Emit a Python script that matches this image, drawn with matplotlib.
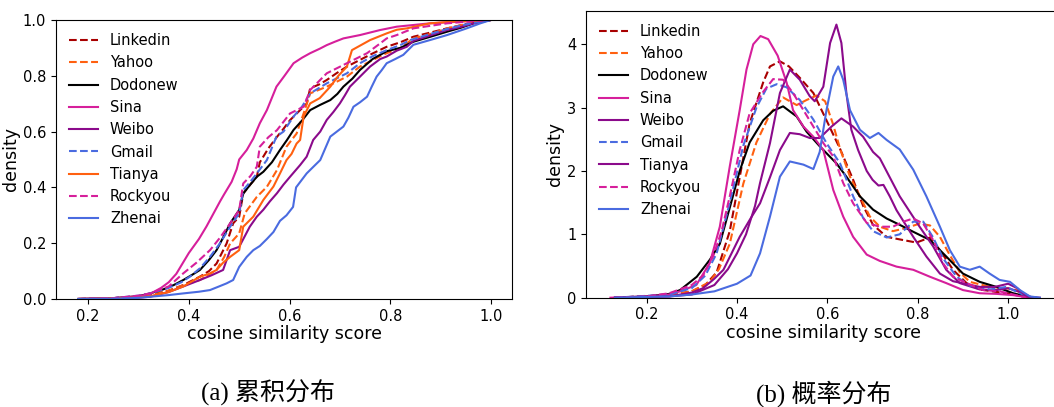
import matplotlib
matplotlib.use("Agg")
import matplotlib.pyplot as plt

# ---------------- data ----------------
names = ["Linkedin", "Yahoo", "Dodonew", "Sina", "Weibo", "Gmail", "Tianya", "Rockyou", "Zhenai"]

# (a) cumulative distribution (ECDF) points
cdf_x = {
    "Linkedin": [0.18, 0.25, 0.30, 0.323, 0.36, 0.389, 0.422, 0.44, 0.455, 0.475, 0.488, 0.5, 0.508, 0.522, 0.535, 0.541, 0.558, 0.575, 0.588, 0.601, 0.621, 0.634, 0.641, 0.66, 0.674, 0.694, 0.714, 0.74, 0.765, 0.793, 0.82, 0.846, 0.88, 0.913, 0.95, 0.979, 1.0],
    "Yahoo": [0.18, 0.25, 0.30, 0.323, 0.36, 0.39, 0.422, 0.455, 0.47, 0.482, 0.5, 0.511, 0.535, 0.555, 0.575, 0.594, 0.614, 0.628, 0.641, 0.674, 0.714, 0.740, 0.78, 0.793, 0.82, 0.846, 0.88, 0.913, 0.95, 1.0],
    "Dodonew": [0.18, 0.25, 0.30, 0.323, 0.35, 0.37, 0.389, 0.405, 0.422, 0.44, 0.455, 0.468, 0.482, 0.5, 0.508, 0.522, 0.535, 0.548, 0.565, 0.581, 0.595, 0.608, 0.625, 0.641, 0.66, 0.681, 0.695, 0.707, 0.725, 0.740, 0.765, 0.793, 0.82, 0.846, 0.88, 0.913, 0.94, 0.966, 1.0],
    "Sina": [0.18, 0.25, 0.30, 0.323, 0.345, 0.36, 0.375, 0.385, 0.40, 0.42, 0.435, 0.45, 0.462, 0.47, 0.485, 0.495, 0.5, 0.515, 0.528, 0.541, 0.555, 0.574, 0.59, 0.608, 0.625, 0.641, 0.66, 0.674, 0.69, 0.707, 0.74, 0.78, 0.813, 0.879, 0.95, 1.0],
    "Weibo": [0.18, 0.25, 0.30, 0.323, 0.36, 0.389, 0.422, 0.445, 0.468, 0.482, 0.5, 0.521, 0.535, 0.548, 0.561, 0.575, 0.588, 0.601, 0.621, 0.634, 0.647, 0.661, 0.674, 0.687, 0.70, 0.71, 0.72, 0.74, 0.76, 0.78, 0.793, 0.813, 0.833, 0.846, 0.88, 0.913, 0.94, 0.966, 1.0],
    "Gmail": [0.18, 0.25, 0.30, 0.323, 0.36, 0.385, 0.402, 0.422, 0.442, 0.462, 0.482, 0.5, 0.508, 0.522, 0.535, 0.555, 0.574, 0.588, 0.608, 0.625, 0.641, 0.674, 0.714, 0.740, 0.765, 0.793, 0.82, 0.84, 0.88, 0.913, 0.95, 0.979, 1.0],
    "Tianya": [0.18, 0.25, 0.30, 0.323, 0.36, 0.389, 0.422, 0.44, 0.455, 0.468, 0.482, 0.5, 0.508, 0.528, 0.548, 0.568, 0.581, 0.594, 0.604, 0.614, 0.621, 0.628, 0.641, 0.66, 0.681, 0.697, 0.714, 0.724, 0.742, 0.76, 0.793, 0.813, 0.833, 0.879, 0.93, 1.0],
    "Rockyou": [0.18, 0.25, 0.30, 0.323, 0.36, 0.389, 0.415, 0.442, 0.462, 0.482, 0.5, 0.508, 0.522, 0.535, 0.541, 0.558, 0.575, 0.601, 0.628, 0.641, 0.674, 0.714, 0.754, 0.78, 0.793, 0.813, 0.846, 0.913, 0.96, 1.0],
    "Zhenai": [0.18, 0.25, 0.30, 0.323, 0.36, 0.389, 0.42, 0.442, 0.46, 0.475, 0.488, 0.5, 0.515, 0.528, 0.541, 0.555, 0.568, 0.581, 0.594, 0.607, 0.613, 0.634, 0.648, 0.661, 0.671, 0.681, 0.694, 0.707, 0.717, 0.727, 0.74, 0.754, 0.763, 0.773, 0.783, 0.793, 0.81, 0.826, 0.846, 0.879, 0.913, 0.952, 0.979, 1.0],
}
cdf_y = {
    "Linkedin": [0, 0.003, 0.01, 0.014, 0.03, 0.05, 0.08, 0.10, 0.127, 0.199, 0.271, 0.295, 0.378, 0.41, 0.438, 0.49, 0.54, 0.581, 0.61, 0.641, 0.677, 0.70, 0.755, 0.77, 0.785, 0.81, 0.833, 0.857, 0.88, 0.904, 0.92, 0.94, 0.955, 0.970, 0.985, 0.994, 1.0],
    "Yahoo": [0, 0.002, 0.007, 0.012, 0.03, 0.05, 0.068, 0.104, 0.15, 0.199, 0.235, 0.307, 0.366, 0.402, 0.462, 0.546, 0.593, 0.665, 0.737, 0.761, 0.797, 0.833, 0.87, 0.881, 0.899, 0.934, 0.95, 0.970, 0.985, 1.0],
    "Dodonew": [0, 0.003, 0.01, 0.02, 0.035, 0.05, 0.068, 0.085, 0.104, 0.14, 0.175, 0.22, 0.271, 0.319, 0.378, 0.41, 0.438, 0.456, 0.49, 0.534, 0.57, 0.606, 0.64, 0.677, 0.695, 0.713, 0.735, 0.761, 0.79, 0.821, 0.86, 0.888, 0.90, 0.922, 0.94, 0.958, 0.972, 0.988, 1.0],
    "Sina": [0, 0.003, 0.01, 0.018, 0.04, 0.06, 0.09, 0.12, 0.165, 0.215, 0.26, 0.31, 0.35, 0.375, 0.42, 0.465, 0.5, 0.534, 0.575, 0.63, 0.677, 0.761, 0.80, 0.845, 0.865, 0.881, 0.897, 0.910, 0.922, 0.934, 0.946, 0.964, 0.976, 0.988, 0.995, 1.0],
    "Weibo": [0, 0.002, 0.005, 0.008, 0.025, 0.045, 0.068, 0.085, 0.104, 0.175, 0.187, 0.259, 0.295, 0.32, 0.35, 0.379, 0.41, 0.438, 0.48, 0.51, 0.57, 0.60, 0.642, 0.67, 0.701, 0.73, 0.761, 0.797, 0.833, 0.86, 0.869, 0.89, 0.904, 0.925, 0.945, 0.964, 0.975, 0.988, 1.0],
    "Gmail": [0, 0.003, 0.012, 0.02, 0.04, 0.06, 0.08, 0.11, 0.151, 0.2, 0.259, 0.307, 0.39, 0.42, 0.45, 0.498, 0.582, 0.60, 0.654, 0.69, 0.737, 0.773, 0.809, 0.845, 0.87, 0.892, 0.91, 0.928, 0.95, 0.968, 0.984, 0.994, 1.0],
    "Tianya": [0, 0.002, 0.005, 0.01, 0.025, 0.045, 0.08, 0.09, 0.104, 0.13, 0.151, 0.175, 0.259, 0.295, 0.355, 0.403, 0.45, 0.498, 0.52, 0.557, 0.57, 0.654, 0.701, 0.72, 0.761, 0.80, 0.833, 0.892, 0.91, 0.928, 0.952, 0.965, 0.970, 0.988, 0.995, 1.0],
    "Rockyou": [0, 0.003, 0.012, 0.02, 0.045, 0.092, 0.13, 0.175, 0.22, 0.271, 0.319, 0.414, 0.44, 0.474, 0.546, 0.58, 0.605, 0.665, 0.689, 0.749, 0.809, 0.845, 0.881, 0.916, 0.934, 0.946, 0.970, 0.988, 0.995, 1.0],
    "Zhenai": [0, 0.001, 0.004, 0.008, 0.014, 0.02, 0.026, 0.032, 0.045, 0.056, 0.068, 0.115, 0.151, 0.175, 0.19, 0.215, 0.24, 0.28, 0.30, 0.33, 0.40, 0.45, 0.475, 0.498, 0.54, 0.582, 0.60, 0.618, 0.65, 0.689, 0.705, 0.725, 0.76, 0.797, 0.82, 0.845, 0.86, 0.875, 0.911, 0.928, 0.946, 0.970, 0.988, 1.0],
}

# (b) probability density (KDE) points
pdf_x = {
    "Linkedin": [0.13, 0.25, 0.3, 0.33, 0.355, 0.384, 0.406, 0.428, 0.458, 0.473, 0.495, 0.515, 0.539, 0.569, 0.598, 0.628, 0.657, 0.679, 0.701, 0.731, 0.76, 0.797, 0.827, 0.849, 0.878, 0.908, 0.937, 0.974, 1.01, 1.04, 1.06],
    "Yahoo": [0.13, 0.25, 0.3, 0.34, 0.36, 0.384, 0.414, 0.443, 0.473, 0.502, 0.532, 0.554, 0.576, 0.595, 0.612, 0.628, 0.65, 0.672, 0.694, 0.716, 0.745, 0.775, 0.804, 0.827, 0.849, 0.871, 0.893, 0.915, 0.96, 0.996, 1.018, 1.04, 1.06],
    "Dodonew": [0.13, 0.2, 0.25, 0.274, 0.311, 0.34, 0.362, 0.384, 0.406, 0.428, 0.458, 0.48, 0.502, 0.532, 0.554, 0.583, 0.62, 0.642, 0.672, 0.701, 0.731, 0.76, 0.79, 0.827, 0.863, 0.9, 0.937, 0.974, 1.011, 1.04, 1.06],
    "Sina": [0.12, 0.2, 0.25, 0.274, 0.31, 0.34, 0.362, 0.384, 0.406, 0.421, 0.436, 0.452, 0.469, 0.49, 0.51, 0.524, 0.547, 0.569, 0.591, 0.613, 0.635, 0.657, 0.687, 0.716, 0.753, 0.79, 0.827, 0.863, 0.9, 0.937, 0.974, 1.011, 1.048],
    "Weibo": [0.13, 0.25, 0.3, 0.325, 0.35, 0.37, 0.406, 0.43, 0.451, 0.473, 0.495, 0.517, 0.539, 0.561, 0.583, 0.609, 0.631, 0.657, 0.679, 0.701, 0.716, 0.76, 0.804, 0.834, 0.863, 0.893, 0.937, 0.974, 1.0, 1.03, 1.05, 1.07],
    "Gmail": [0.13, 0.25, 0.3, 0.33, 0.355, 0.384, 0.414, 0.443, 0.465, 0.488, 0.51, 0.539, 0.569, 0.598, 0.628, 0.657, 0.679, 0.701, 0.731, 0.76, 0.79, 0.812, 0.834, 0.856, 0.886, 0.915, 0.96, 0.996, 1.026, 1.048, 1.07],
    "Tianya": [0.13, 0.25, 0.3, 0.35, 0.38, 0.40, 0.42, 0.44, 0.451, 0.473, 0.495, 0.517, 0.539, 0.561, 0.572, 0.591, 0.606, 0.62, 0.631, 0.642, 0.653, 0.668, 0.687, 0.70, 0.713, 0.724, 0.738, 0.753, 0.79, 0.819, 0.849, 0.878, 0.937, 0.97, 1.0, 1.02, 1.04, 1.06],
    "Rockyou": [0.13, 0.2, 0.25, 0.3, 0.325, 0.347, 0.366, 0.384, 0.406, 0.428, 0.458, 0.48, 0.502, 0.524, 0.547, 0.569, 0.591, 0.613, 0.635, 0.657, 0.687, 0.716, 0.745, 0.768, 0.79, 0.812, 0.834, 0.856, 0.878, 0.908, 0.945, 0.981, 1.011, 1.04],
    "Zhenai": [0.13, 0.25, 0.3, 0.35, 0.4, 0.43, 0.451, 0.473, 0.495, 0.517, 0.547, 0.569, 0.583, 0.598, 0.613, 0.624, 0.635, 0.65, 0.672, 0.694, 0.713, 0.731, 0.76, 0.79, 0.819, 0.849, 0.871, 0.893, 0.915, 0.937, 0.959, 0.981, 1.004, 1.026, 1.048, 1.07],
}
pdf_y = {
    "Linkedin": [0, 0.04, 0.1, 0.2, 0.4, 1.05, 1.9, 2.75, 3.4, 3.65, 3.73, 3.65, 3.47, 3.23, 2.8, 2.35, 1.86, 1.45, 1.15, 0.96, 0.92, 0.87, 0.95, 0.75, 0.44, 0.23, 0.13, 0.09, 0.06, 0.01, 0],
    "Yahoo": [0, 0.04, 0.1, 0.25, 0.45, 0.85, 1.8, 2.45, 2.9, 3.16, 3.04, 3.12, 3.19, 3.1, 2.75, 2.35, 1.91, 1.6, 1.28, 1.12, 1.05, 1.1, 1.17, 1.14, 0.96, 0.67, 0.4, 0.25, 0.17, 0.15, 0.12, 0.02, 0],
    "Dodonew": [0, 0.02, 0.06, 0.12, 0.33, 0.6, 0.85, 1.42, 2.0, 2.45, 2.8, 2.95, 3.02, 2.86, 2.62, 2.39, 2.12, 1.91, 1.6, 1.39, 1.25, 1.15, 1.04, 0.91, 0.65, 0.38, 0.25, 0.17, 0.07, 0.02, 0],
    "Sina": [0, 0.02, 0.05, 0.1, 0.2, 0.55, 1.12, 2.07, 2.96, 3.6, 4.0, 4.13, 4.08, 3.82, 3.39, 2.96, 2.7, 2.54, 2.33, 1.7, 1.28, 0.96, 0.68, 0.58, 0.49, 0.44, 0.33, 0.23, 0.12, 0.07, 0.06, 0.04, 0],
    "Weibo": [0, 0.02, 0.08, 0.15, 0.3, 0.44, 0.96, 1.25, 1.49, 1.9, 2.33, 2.6, 2.58, 2.52, 2.52, 2.7, 2.83, 2.7, 2.54, 2.3, 2.2, 1.6, 1.12, 0.81, 0.44, 0.23, 0.13, 0.12, 0.15, 0.08, 0.01, 0],
    "Gmail": [0, 0.05, 0.15, 0.35, 0.7, 1.5, 2.4, 3.0, 3.3, 3.37, 3.32, 3.12, 2.81, 2.44, 2.12, 1.6, 1.26, 1.05, 0.95, 1.0, 1.2, 1.2, 0.95, 0.62, 0.33, 0.19, 0.13, 0.17, 0.07, 0.01, 0],
    "Tianya": [0, 0.02, 0.05, 0.2, 0.45, 0.7, 1.0, 1.45, 1.81, 2.44, 3.23, 3.6, 3.44, 3.18, 3.1, 3.33, 4.02, 4.31, 4.02, 3.23, 2.65, 2.33, 2.0, 1.86, 1.77, 1.78, 1.6, 1.38, 0.96, 0.65, 0.38, 0.26, 0.17, 0.17, 0.22, 0.15, 0.02, 0],
    "Rockyou": [0, 0.02, 0.07, 0.2, 0.35, 0.65, 1.05, 1.6, 2.33, 2.91, 3.25, 3.45, 3.44, 3.23, 2.96, 2.7, 2.44, 2.23, 1.81, 1.49, 1.18, 1.12, 1.12, 1.2, 1.25, 1.17, 0.91, 0.54, 0.33, 0.23, 0.12, 0.1, 0.05, 0],
    "Zhenai": [0, 0.02, 0.05, 0.1, 0.22, 0.35, 0.7, 1.28, 1.91, 2.15, 2.1, 2.03, 2.3, 2.96, 3.49, 3.65, 3.44, 2.96, 2.65, 2.52, 2.6, 2.49, 2.34, 2.02, 1.6, 1.12, 0.75, 0.49, 0.44, 0.49, 0.38, 0.28, 0.25, 0.12, 0.02, 0],
}

captions = ["(a) 累积分布", "(b) 概率分布"]
xlabel = "cosine similarity score"
ylabel = "density"

# ---------------- style ----------------
ORANGE = "#ff6010"
PINK = "#d61f9b"
PURPLE = "#8b0a8b"
BLUE = "#4a6be0"
style_a = {
    "Linkedin": ("#a80000", "--"), "Yahoo": (ORANGE, "--"), "Dodonew": ("black", "-"),
    "Sina": (PINK, "-"), "Weibo": (PURPLE, "-"), "Gmail": (BLUE, "--"),
    "Tianya": (ORANGE, "-"), "Rockyou": (PINK, "--"), "Zhenai": (BLUE, "-"),
}
style_b = dict(style_a)
style_b["Tianya"] = (PURPLE, "-")

plt.rcParams["font.family"] = ["DejaVu Sans"]
fig = plt.figure(figsize=(10.54, 4.07), dpi=100)
ax1 = fig.add_axes([0.0531, 0.2654, 0.4327, 0.6855])
ax2 = fig.add_axes([0.556, 0.2686, 0.4507, 0.7052])

for n in names:
    c, ls = style_a[n]
    assert len(cdf_x[n]) == len(cdf_y[n]), n
    ax1.plot(cdf_x[n], cdf_y[n], color=c, ls=ls, lw=1.5, label=n)
ax1.set_xlim(0.136, 1.042)
ax1.set_ylim(0, 1.0)
ax1.set_xticks([0.2, 0.4, 0.6, 0.8, 1.0])
ax1.set_yticks([0.0, 0.2, 0.4, 0.6, 0.8, 1.0])

for n in names:
    c, ls = style_b[n]
    assert len(pdf_x[n]) == len(pdf_y[n]), n
    ax2.plot(pdf_x[n], pdf_y[n], color=c, ls=ls, lw=1.5, label=n)
ax2.set_xlim(0.066, 1.117)
ax2.set_ylim(0, 4.53)
ax2.set_xticks([0.2, 0.4, 0.6, 0.8, 1.0])
ax2.set_yticks([0, 1, 2, 3, 4])

for ax in (ax1, ax2):
    ax.tick_params(labelsize=10.5)
    ax.set_xlabel(xlabel, fontsize=12.5, labelpad=1)
    ax.set_ylabel(ylabel, fontsize=12.5, labelpad=2)
    ax.legend(loc="upper left", frameon=False, fontsize=10.5)

fig.text(0.254, 0.034, captions[0], ha="center", va="center", fontsize=18,
         family=["Liberation Serif", "Noto Sans CJK SC"])
fig.text(0.782, 0.034, captions[1], ha="center", va="center", fontsize=18,
         family=["Liberation Serif", "Noto Sans CJK SC"])

fig.savefig("out.png", dpi=100)
